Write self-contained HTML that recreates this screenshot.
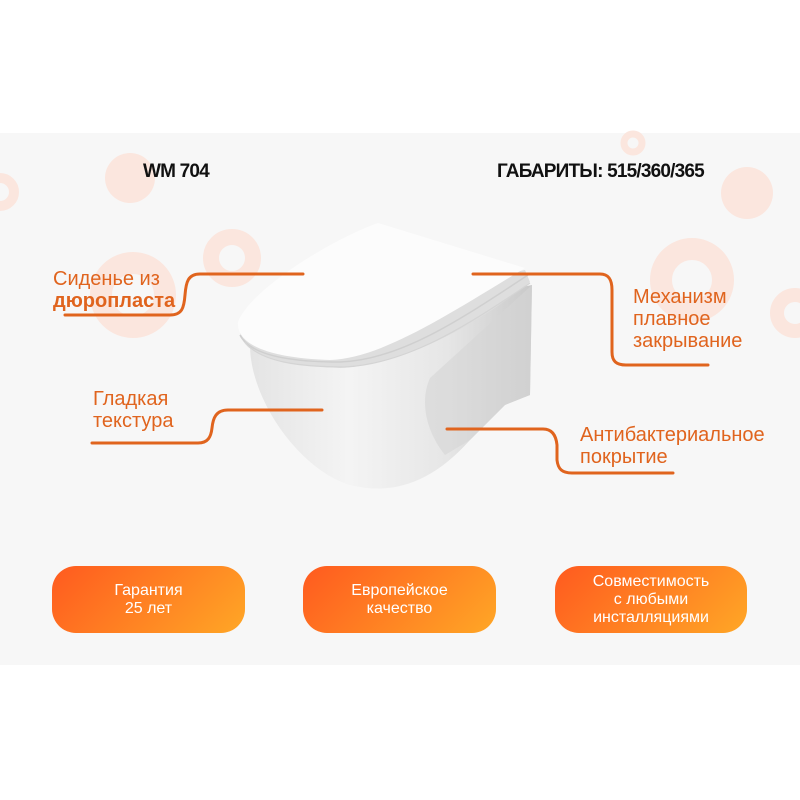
<!DOCTYPE html>
<html><head><meta charset="utf-8"><style>
body{margin:0;width:800px;height:800px;background:#fff;position:relative;overflow:hidden;font-family:"Liberation Sans",sans-serif}
.panel{position:absolute;left:0;top:133px;width:800px;height:532px;background:#f7f7f7}
.t{position:absolute;color:#e0641e;font-size:20px;line-height:22px}
.h{position:absolute;font-weight:bold;font-size:19px;color:#111;letter-spacing:-0.8px}
.b{position:absolute;top:566px;height:67px;border-radius:24px;background:linear-gradient(135deg,#ff5a1f,#ffa726);color:#fff;font-size:16px;line-height:18px;display:flex;align-items:center;justify-content:center;text-align:center}
</style></head><body>
<div class="panel"></div>
<svg width="800" height="800" style="position:absolute;left:0;top:0">
<defs>
<linearGradient id="bw" x1="0" y1="0" x2="1" y2="0">
<stop offset="0" stop-color="#e4e4e4"/><stop offset="0.35" stop-color="#f4f4f4"/><stop offset="0.7" stop-color="#e6e6e6"/><stop offset="1" stop-color="#c9c9c9"/>
</linearGradient>
</defs>
<g fill="#fbe6de">
<circle cx="130" cy="178" r="25"/>
<circle cx="747" cy="193" r="26"/>
</g>
<g fill="none" stroke="#fbe6de">
<circle cx="0" cy="192" r="14" stroke-width="10"/>
<circle cx="633" cy="143" r="9" stroke-width="7"/>
<circle cx="232" cy="258" r="21" stroke-width="16"/>
<circle cx="133" cy="295" r="32" stroke-width="22"/>
<circle cx="692" cy="280" r="31" stroke-width="22"/>
<circle cx="795" cy="313" r="18" stroke-width="14"/>
</g>
<!-- toilet -->
<path d="M250,345 C250,400 300,470 350,485 C390,495 430,485 470,440 L505,405 L530,395 L532,285 L300,330 Z" fill="url(#bw)"/>
<path d="M430,378 C420,400 425,430 445,455 L470,440 L505,405 L530,395 L532,285 Z" fill="#d6d6d6" opacity="0.6"/>
<path d="M240,330 C240,355 280,365 340,368 C400,365 470,330 530,282 L525,270 Z" fill="#dedede"/>
<path d="M238,322 C236,345 270,358 330,360 C380,358 440,320 525,268 L378,223 C330,240 250,290 238,322 Z" fill="#fcfcfc"/>
<path d="M240,335 C250,355 290,362 340,362 C400,360 460,320 528,275" fill="none" stroke="#cfcfcf" stroke-width="1.5"/>
<path d="M245,342 C260,362 300,367 345,367 C405,364 465,328 530,283" fill="none" stroke="#d4d4d4" stroke-width="1.2"/>
<g fill="none" stroke="#e0641e" stroke-width="3" stroke-linecap="round">
<path d="M303,274 H200 C188,274 186,282 185,295 C184,308 182,315 170,315 H65"/>
<path d="M473,274 H600 C609,274 612,280 612,290 V352 C612,361 616,365 626,365 H708"/>
<path d="M322,410 H228 C216,410 213,418 212,428 C211,437 208,443 198,443 H92"/>
<path d="M447,429 H543 C552,429 556,435 557,445 V460 C558,469 562,473 572,473 H673"/>
</g>
</svg>
<div class="h" style="left:143px;top:161px">WM 704</div>
<div class="h" style="left:497px;top:161px">ГАБАРИТЫ: 515/360/365</div>
<div class="t" style="left:53px;top:268px">Сиденье из<br><b>дюропласта</b></div>
<div class="t" style="left:633px;top:286px">Механизм<br>плавное<br>закрывание</div>
<div class="t" style="left:93px;top:388px">Гладкая<br>текстура</div>
<div class="t" style="left:580px;top:424px">Антибактериальное<br>покрытие</div>
<div class="b" style="left:52px;width:193px">Гарантия<br>25 лет</div>
<div class="b" style="left:303px;width:193px">Европейское<br>качество</div>
<div class="b" style="left:555px;width:192px">Совместимость<br>с любыми<br>инсталляциями</div>
</body></html>
